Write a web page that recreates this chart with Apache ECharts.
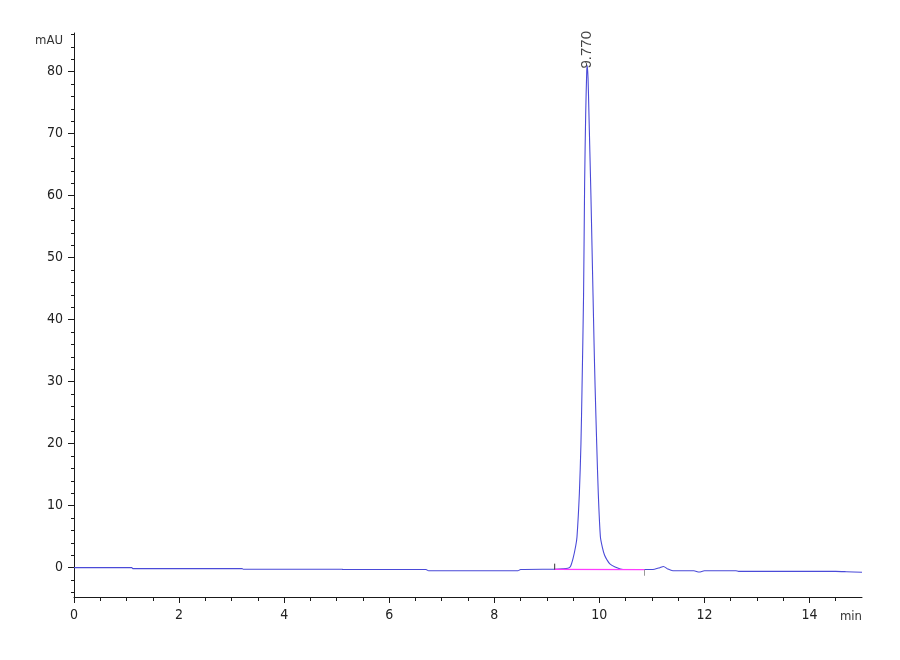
<!DOCTYPE html>
<html>
<head>
<meta charset="utf-8">
<script src="https://cdn.jsdelivr.net/npm/echarts@6/dist/echarts.min.js"></script>
<style>html,body{margin:0;padding:0;background:#fff}#c{width:900px;height:660px}</style>
</head>
<body>
<div id="c"></div>
<script>
// Chromatogram trace (time in min, absorbance in mAU)
const traceTime = [0, 1.1, 1.12, 3.2, 3.22, 5.1, 5.12, 6.7, 6.75, 8.45, 8.5, 9.15, 9.3, 9.4, 9.45, 9.5, 9.55, 9.575, 9.62, 9.65, 9.67, 9.7, 9.72, 9.74, 9.76, 9.77, 9.785, 9.8, 9.82, 9.84, 9.86, 9.88, 9.9, 9.92, 9.95, 9.98, 10.02, 10.06, 10.1, 10.15, 10.2, 10.3, 10.4, 10.5, 10.86, 11.05, 11.15, 11.22, 11.3, 11.4, 11.8, 11.9, 12.0, 12.6, 12.65, 14.5, 14.7, 15.0];
const traceMAU  = [0, 0, -0.15, -0.15, -0.25, -0.25, -0.3, -0.3, -0.5, -0.5, -0.3, -0.25, -0.2, -0.1, 0.2, 1.5, 3.5, 5, 12, 20, 28.7, 44, 62, 73, 80, 81, 79, 74, 67, 60, 52, 44, 36, 29, 20, 12, 5, 3.2, 2.0, 1.2, 0.6, 0.1, -0.2, -0.3, -0.3, -0.25, 0.0, 0.2, -0.2, -0.5, -0.5, -0.7, -0.5, -0.5, -0.6, -0.6, -0.65, -0.75];

// Integration baseline and its start/end markers
const baseTime = [9.15, 10.86];
const baseMAU = [-0.27, -0.3];
const startMarkTime = [9.15, 9.15];
const startMarkMAU = [-0.3, 0.65];
const endMarkTime = [10.86, 10.86];
const endMarkMAU = [-0.3, -1.3];

// Peak annotation
const peakTime = [9.77];
const peakMAU = [81];
const peakLabel = ['9.770'];

// Axis ticks
const xMajor = [0, 2, 4, 6, 8, 10, 12, 14];
const xMinor = [0.5, 1, 1.5, 2.5, 3, 3.5, 4.5, 5, 5.5, 6.5, 7, 7.5, 8.5, 9, 9.5, 10.5, 11, 11.5, 12.5, 13, 13.5, 14.5];
const yMajor = [0, 10, 20, 30, 40, 50, 60, 70, 80];
const yMinor = [-4, -2, 2, 4, 6, 8, 12, 14, 16, 18, 22, 24, 26, 28, 32, 34, 36, 38, 42, 44, 46, 48, 52, 54, 56, 58, 62, 64, 66, 68, 72, 74, 76, 78, 82, 84, 86];

const X_MIN = 0, X_MAX = 15, Y_MIN = -4.73, Y_MAX = 86.24;

const zip = (a, b) => a.map((v, i) => [v, b[i]]);
const FONT = '"Liberation Sans Narrow", "DejaVu Sans Condensed", "Liberation Sans", Arial, sans-serif';
const AX = '#1a1a1a';

const chart = echarts.init(document.getElementById('c'));
chart.setOption({
  animation: false,
  backgroundColor: '#fff',
  grid: { left: 74, right: 38, top: 33, bottom: 63, containLabel: false },
  xAxis: [
    {
      type: 'value', min: X_MIN, max: X_MAX,
      name: 'min', nameLocation: 'end', nameGap: 0,
      nameTextStyle: { fontFamily: FONT, fontSize: 13, color: '#333', align: 'right', verticalAlign: 'top', padding: [13, 0, 0, 0] },
      axisLine: { show: true, onZero: false, lineStyle: { color: AX, width: 1 } },
      axisTick: { show: true, length: 6, customValues: xMajor, lineStyle: { color: AX } },
      axisLabel: { customValues: xMajor, margin: 11, fontFamily: FONT, fontSize: 14, color: '#222' },
      splitLine: { show: false }
    },
    {
      type: 'value', min: X_MIN, max: X_MAX, position: 'bottom',
      axisLine: { show: false, onZero: false },
      axisTick: { show: true, length: 4, customValues: xMinor, lineStyle: { color: AX } },
      axisLabel: { show: false },
      splitLine: { show: false }
    }
  ],
  yAxis: [
    {
      type: 'value', min: Y_MIN, max: Y_MAX,
      name: 'mAU', nameLocation: 'end', nameGap: -8,
      nameTextStyle: { fontFamily: FONT, fontSize: 13, color: '#333', align: 'right', verticalAlign: 'middle', padding: [0, 11, 0, 0] },
      axisLine: { show: true, onZero: false, lineStyle: { color: AX, width: 1 } },
      axisTick: { show: true, length: 6, customValues: yMajor, lineStyle: { color: AX } },
      axisLabel: { customValues: yMajor, margin: 11, fontFamily: FONT, fontSize: 14, color: '#222' },
      splitLine: { show: false }
    },
    {
      type: 'value', min: Y_MIN, max: Y_MAX, position: 'left',
      axisLine: { show: false, onZero: false },
      axisTick: { show: true, length: 3, customValues: yMinor, lineStyle: { color: AX } },
      axisLabel: { show: false },
      splitLine: { show: false }
    }
  ],
  series: [
    {
      type: 'line', name: 'trace', data: zip(traceTime, traceMAU),
      symbol: 'none', smooth: 0.25, lineStyle: { color: '#4a4ad8', width: 1.1 }, z: 3
    },
    {
      type: 'line', name: 'baseline', data: zip(baseTime, baseMAU),
      symbol: 'none', lineStyle: { color: '#ff3cff', width: 1.2 }, z: 4
    },
    {
      type: 'line', name: 'start', data: zip(startMarkTime, startMarkMAU),
      symbol: 'none', lineStyle: { color: '#333', width: 1 }, z: 5
    },
    {
      type: 'line', name: 'end', data: zip(endMarkTime, endMarkMAU),
      symbol: 'none', lineStyle: { color: '#999', width: 1 }, z: 5
    },
    {
      type: 'scatter', name: 'peak', data: zip(peakTime, peakMAU),
      symbolSize: 0, z: 6,
      label: {
        show: true, position: 'top', distance: -3, rotate: 90,
        align: 'left', verticalAlign: 'middle',
        formatter: p => peakLabel[p.dataIndex],
        fontFamily: 'Liberation Sans, Arial, sans-serif', fontSize: 15, color: '#111'
      }
    }
  ]
});
</script>
</body>
</html>
